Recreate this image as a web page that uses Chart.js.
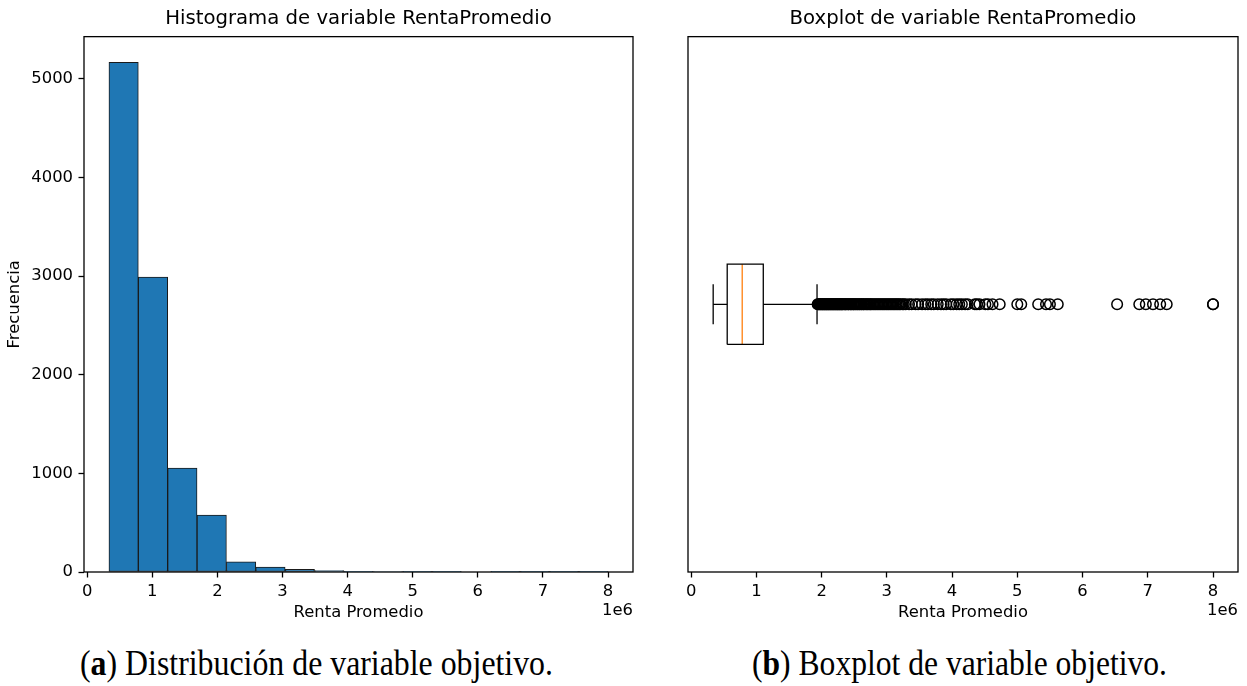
<!DOCTYPE html>
<html>
<head>
<meta charset="utf-8">
<script src="https://cdn.jsdelivr.net/npm/chart.js@4.4.0/dist/chart.umd.min.js"></script>
<style>
body { margin: 0; background: #fff; width: 1247px; height: 686px; overflow: hidden; position: relative; }
.panel { position: absolute; top: 0; }
#p1 { left: 0; }
#p2 { left: 650px; }
.cap { position: absolute; top: 646px; font-family: 'Liberation Serif', serif; font-size: 35px; line-height: 1; white-space: nowrap; transform-origin: left top; color: #000; }
</style>
</head>
<body>
<div class="panel" id="p1"><canvas id="hist" width="650" height="632"></canvas></div>
<div class="panel" id="p2"><canvas id="caja" width="597" height="632"></canvas></div>
<div class="cap" id="capA" style="left:80px">(<b>a</b>) Distribución de variable objetivo.</div>
<div class="cap" id="capB" style="left:752px">(<b>b</b>) Boxplot de variable objetivo.</div>
<script>
// valores en millones (eje x con offset 1e6)
var bordesBins = [0.335, 0.786, 1.237, 1.688, 2.139, 2.590, 3.041, 3.492, 3.943, 4.394, 4.845, 5.296, 5.747, 6.198, 6.649, 7.100, 7.551, 8.002];
var frecuencias = [5165, 2989, 1054, 578, 104, 50, 26, 14, 7, 5, 3, 4, 0, 1, 3, 3, 2];
var ticksX = [0, 1, 2, 3, 4, 5, 6, 7, 8];
var ticksY = [0, 1000, 2000, 3000, 4000, 5000];

// bigote inf, Q1, mediana, Q3, bigote sup
var resumenCaja = [0.338, 0.553, 0.783, 1.106, 1.93];
var atipicos = [1.94, 1.95, 1.96, 1.97, 1.98, 1.99, 2.00, 2.01, 2.02, 2.03, 2.04, 2.05, 2.06, 2.07, 2.08,
  2.09, 2.10, 2.11, 2.12, 2.13, 2.14, 2.15, 2.16, 2.17, 2.18, 2.19, 2.20, 2.21, 2.22, 2.23, 2.24,
  2.25, 2.26, 2.27, 2.28, 2.29, 2.30, 2.31, 2.32, 2.33, 2.35, 2.36, 2.37, 2.38, 2.40, 2.41, 2.42,
  2.44, 2.45, 2.46, 2.48, 2.49, 2.50, 2.52, 2.53, 2.55, 2.56, 2.58, 2.59, 2.61, 2.62, 2.64, 2.65,
  2.67, 2.69, 2.70, 2.72, 2.74, 2.75, 2.77, 2.79, 2.81, 2.83, 2.85, 2.87, 2.89, 2.91, 2.93, 2.95,
  2.97, 2.99, 3.01, 3.03, 3.05, 3.07, 3.09, 3.11, 3.13, 3.15, 3.17, 3.19, 3.21, 3.24, 3.26,
  3.29, 3.34, 3.38, 3.44, 3.48, 3.54, 3.59, 3.63, 3.68, 3.72, 3.78, 3.83, 3.87, 3.91, 3.98, 4.02,
  4.07, 4.11, 4.15, 4.20, 4.24, 4.35, 4.38, 4.42, 4.51, 4.55, 4.62, 4.73,
  5.00, 5.06, 5.32, 5.44, 5.50, 5.62, 6.53, 6.87, 6.97, 7.08, 7.19, 7.29, 8.00, 8.00];

var xMin = -0.048, xMax = 8.383;
var medioCaja = 0.075, medioTapa = 0.0374;

Chart.defaults.color = '#000';
Chart.defaults.font.family = 'DejaVu Sans';
Chart.defaults.font.size = 16.4;

var marco = {
  id: 'marco',
  afterDraw: function(chart) {
    var a = chart.chartArea, ctx = chart.ctx;
    ctx.save();
    ctx.strokeStyle = '#000';
    ctx.lineWidth = 1.3;
    ctx.strokeRect(a.left, a.top, a.right - a.left, a.bottom - a.top);
    ctx.font = '16.4px "DejaVu Sans"';
    ctx.fillStyle = '#000';
    ctx.textAlign = 'right';
    ctx.textBaseline = 'middle';
    ctx.fillText('1e6', a.right, 611);
    ctx.restore();
  }
};

function ejeX() {
  return {
    type: 'linear', min: xMin, max: xMax, offset: false,
    afterBuildTicks: function(s) { s.ticks = ticksX.map(function(v) { return { value: v }; }); },
    afterFit: function(s) { s.height = 60; },
    grid: { offset: false, drawOnChartArea: false, tickLength: 5.5, tickColor: '#000', tickWidth: 1.3 },
    border: { display: false },
    ticks: { padding: 4, maxRotation: 0, callback: function(v) { return String(v); } },
    title: { display: true, text: 'Renta Promedio', padding: { top: 2, bottom: 9.2 } }
  };
}

function titulo(txt) {
  return { display: true, text: txt, fullSize: false, font: { size: 19.7, weight: 'normal' }, color: '#000', padding: { top: 7.5, bottom: 5.5 } };
}

var centros = [];
for (var i = 0; i < frecuencias.length; i++) {
  centros.push({ x: (bordesBins[i] + bordesBins[i + 1]) / 2, y: frecuencias[i] });
}

new Chart(document.getElementById('hist'), {
  type: 'bar',
  data: {
    datasets: [{
      data: centros,
      backgroundColor: '#1f77b4',
      borderColor: '#1a1a1a',
      borderWidth: 1,
      borderSkipped: false,
      barPercentage: 1,
      categoryPercentage: 1
    }]
  },
  options: {
    responsive: false,
    animation: false,
    layout: { padding: { left: 0, right: 17, top: 0, bottom: 0 } },
    plugins: { legend: { display: false }, tooltip: { enabled: false }, title: titulo('Histograma de variable RentaPromedio') },
    scales: {
      x: ejeX(),
      y: {
        type: 'linear', min: 0, max: 5426,
        afterBuildTicks: function(s) { s.ticks = ticksY.map(function(v) { return { value: v }; }); },
        afterFit: function(s) { s.width = 84; },
        grid: { drawOnChartArea: false, tickLength: 5.5, tickColor: '#000', tickWidth: 1.3 },
        border: { display: false },
        ticks: { padding: 5.5, callback: function(v) { return String(v); } },
        title: { display: true, text: 'Frecuencia', padding: { top: 5.2, bottom: 0 } }
      }
    }
  },
  plugins: [marco]
});

var q = resumenCaja;
function linea(puntos, color) {
  return { type: 'scatter', data: puntos, showLine: true, borderColor: color, borderWidth: 1.3, pointRadius: 0, fill: false, tension: 0 };
}

new Chart(document.getElementById('caja'), {
  type: 'scatter',
  data: {
    datasets: [
      linea([{ x: q[0], y: 0.5 }, { x: q[1], y: 0.5 }], '#000'),
      linea([{ x: q[3], y: 0.5 }, { x: q[4], y: 0.5 }], '#000'),
      linea([{ x: q[0], y: 0.5 - medioTapa }, { x: q[0], y: 0.5 + medioTapa }], '#000'),
      linea([{ x: q[4], y: 0.5 - medioTapa }, { x: q[4], y: 0.5 + medioTapa }], '#000'),
      linea([{ x: q[1], y: 0.5 - medioCaja }, { x: q[3], y: 0.5 - medioCaja }, { x: q[3], y: 0.5 + medioCaja },
             { x: q[1], y: 0.5 + medioCaja }, { x: q[1], y: 0.5 - medioCaja }], '#000'),
      linea([{ x: q[2], y: 0.5 - medioCaja }, { x: q[2], y: 0.5 + medioCaja }], '#ff7f0e'),
      {
        data: atipicos.map(function(v) { return { x: v, y: 0.5 }; }),
        pointRadius: 5.3, pointBorderWidth: 1.5, pointBorderColor: '#000', pointBackgroundColor: 'rgba(0,0,0,0)', showLine: false
      }
    ]
  },
  options: {
    responsive: false,
    animation: false,
    layout: { padding: { left: 38, right: 9, top: 0, bottom: 0 } },
    plugins: { legend: { display: false }, tooltip: { enabled: false }, title: titulo('Boxplot de variable RentaPromedio') },
    scales: {
      x: ejeX(),
      y: { type: 'linear', min: 0, max: 1, display: false }
    }
  },
  plugins: [marco]
});

['capA', 'capB'].forEach(function(id, k) {
  var el = document.getElementById(id);
  var objetivo = [473, 415][k];
  var w = el.getBoundingClientRect().width;
  el.style.transform = 'scaleX(' + (objetivo / w) + ')';
});
</script>
</body>
</html>
